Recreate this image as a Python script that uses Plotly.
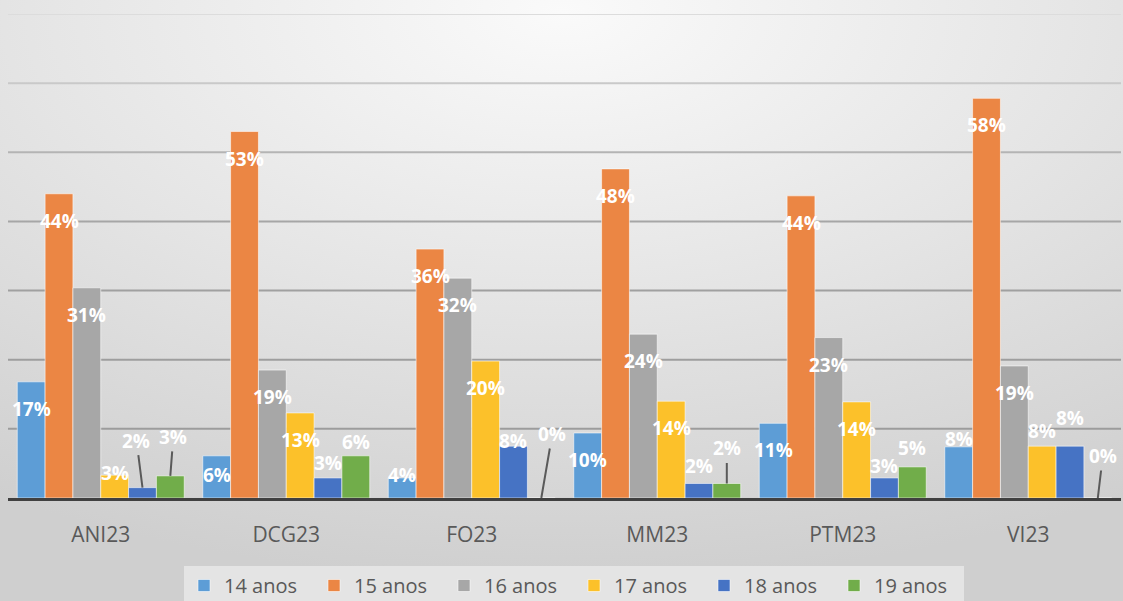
import base64
import plotly.graph_objects as go

# ---------------- data ----------------
categories = ["ANI23", "DCG23", "FO23", "MM23", "PTM23", "VI23"]
series_names = ["14 anos", "15 anos", "16 anos", "17 anos", "18 anos", "19 anos"]

# bar heights (percent)
h14 = [16.8, 6.1, 2.9, 9.4, 10.8, 7.4]
h15 = [44.0, 53.0, 36.0, 47.6, 43.7, 57.8]
h16 = [30.4, 18.5, 31.8, 23.7, 23.2, 19.1]
h17 = [3.3, 12.3, 19.8, 14.0, 13.9, 7.5]
h18 = [1.5, 2.9, 7.5, 2.1, 2.9, 7.5]
h19 = [3.2, 6.1, 0.0, 2.1, 4.5, 0.0]

# printed data labels (percent)
l14 = [17, 6, 4, 10, 11, 8]
l15 = [44, 53, 36, 48, 44, 58]
l16 = [31, 19, 32, 24, 23, 19]
l17 = [3, 13, 20, 14, 14, 8]
l18 = [2, 3, 8, 2, 3, 8]
l19 = [3, 6, 0, 2, 5, 0]

grid_values = [10, 20, 30, 40, 50, 60, 70]

# ---------------- style ----------------
colors = ["#5D9DD6", "#EB8644", "#A7A7A7", "#FCC12A", "#4673C4", "#71AD4A"]
heights = [h14, h15, h16, h17, h18, h19]
labels = [l14, l15, l16, l17, l18, l19]

W, H = 1123, 601
ML, MR, MT, MB = 8, 2, 14, 103
BARGAP = 0.1
FONT = "Open Sans, Lato, sans-serif"
TXT = "#595959"

# label placement (pixel offsets relative to bar top): (category, series) -> yshift
label_shift = {
    (0, 3): 2, (1, 0): -19, (1, 4): 15, (1, 5): 14,
    (2, 0): 3, (2, 4): 5, (3, 4): 17, (4, 4): 12, (4, 5): 19,
    (5, 0): 8, (5, 3): 15, (5, 4): 28,
}
# labels with leader lines: (category, series) -> (ax, ay)
leader = {
    (0, 4): (-6, -47), (0, 5): (3, -39), (2, 5): (11, -64),
    (3, 5): (0, -35), (5, 5): (5, -42),
}

fig = go.Figure()
x_idx = list(range(len(categories)))
for j, name in enumerate(series_names):
    fig.add_trace(go.Bar(
        x=x_idx, y=heights[j], name=name,
        marker=dict(color=colors[j], line=dict(color="rgba(255,255,255,0.55)", width=1)),
        hoverinfo="skip",
    ))

n = len(series_names)
bw = (1 - BARGAP) / n
annotations = []
for j in range(n):
    for i in range(len(categories)):
        xc = i + (j - (n - 1) / 2) * bw
        yv = heights[j][i]
        txt = f"{labels[j][i]}%"
        key = (i, j)
        if key in leader:
            ax, ay = leader[key]
            annotations.append(dict(
                x=xc, y=yv, xref="x", yref="y", text=txt, showarrow=True,
                arrowhead=0, arrowwidth=2, arrowcolor="#5a5a5a", ax=ax, ay=ay,
                standoff=0, startstandoff=0,
                font=dict(family=FONT, size=19, color="white", weight="bold"),
            ))
        else:
            annotations.append(dict(
                x=xc, y=yv, xref="x", yref="y", text=txt, showarrow=False,
                yanchor="middle", yshift=label_shift.get(key, -27),
                font=dict(family=FONT, size=19, color="white", weight="bold"),
            ))

# gridlines, lighter toward the top
grid_colors = ["#9c9c9c", "#9e9e9e", "#a0a0a0", "#a6a6a6", "#b4b4b4", "#c9c9c9", "#dcdcdc"]
shapes = []
for gv, gc in zip(grid_values, grid_colors):
    shapes.append(dict(type="line", xref="paper", yref="y", x0=0, x1=1, y0=gv, y1=gv,
                       line=dict(color=gc, width=2), layer="below"))

# radial gradient background
svg = (
    f"<svg xmlns='http://www.w3.org/2000/svg' width='{W}' height='{H}' "
    f"viewBox='0 0 {W} {H}' preserveAspectRatio='none'>"
    "<defs><radialGradient id='g' cx='0.5' cy='0.02' r='0.95'>"
    "<stop offset='0' stop-color='#fafafa'/>"
    "<stop offset='0.5' stop-color='#e5e5e5'/>"
    "<stop offset='1' stop-color='#cfcfcf'/>"
    "</radialGradient></defs>"
    f"<rect width='{W}' height='{H}' fill='url(#g)'/></svg>"
)
src = "data:image/svg+xml;base64," + base64.b64encode(svg.encode()).decode()
pw, ph = W - ML - MR, H - MT - MB
images = [dict(source=src, xref="paper", yref="paper", x=-ML / pw, y=1 + MT / ph,
               sizex=W / pw, sizey=H / ph, sizing="stretch", layer="below",
               xanchor="left", yanchor="top")]

fig.update_layout(
    width=W, height=H,
    margin=dict(l=ML, r=MR, t=MT, b=MB, autoexpand=False),
    paper_bgcolor="#dcdcdc", plot_bgcolor="rgba(0,0,0,0)",
    barmode="group", bargap=BARGAP, bargroupgap=0,
    font=dict(family=FONT, color=TXT),
    annotations=annotations, shapes=shapes, images=images,
    showlegend=True,
    legend=dict(orientation="h", x=(184 - ML) / pw, xanchor="left",
                y=-(566 - (H - MB)) / ph, yanchor="top",
                bgcolor="#e4e4e4", font=dict(family=FONT, size=20, color=TXT),
                entrywidth=85, entrywidthmode="pixels", itemclick=False,
                traceorder="normal"),
    xaxis=dict(range=[-0.5, len(categories) - 0.5], tickvals=x_idx, ticktext=categories,
               showgrid=False, zeroline=False, showline=True, linecolor="#404040",
               linewidth=3, ticks="", ticklabelstandoff=16,
               tickfont=dict(family=FONT, size=21, color=TXT), fixedrange=True),
    yaxis=dict(range=[0, 70], showgrid=False, zeroline=False, showticklabels=False,
               showline=False, fixedrange=True),
)

fig.write_html(
    "out.html",
    config={"displayModeBar": False},
    post_script="document.body.style.margin='0px';document.body.style.overflow='hidden';",
)
